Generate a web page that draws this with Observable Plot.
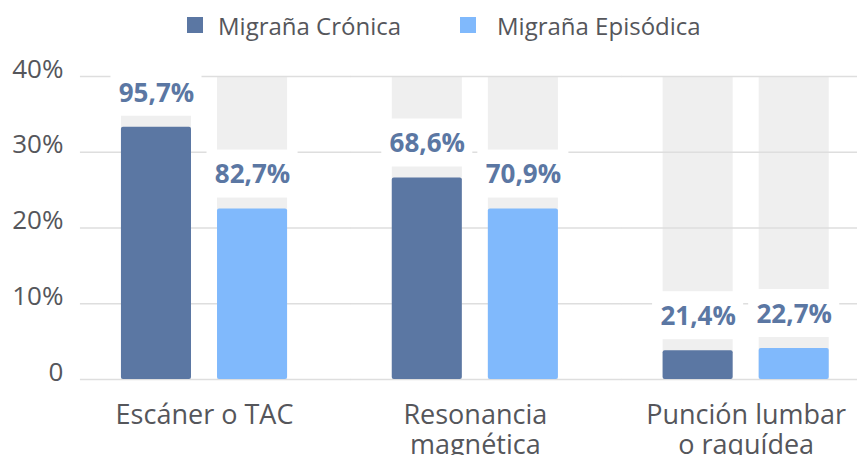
<!DOCTYPE html>
<html>
<head>
<meta charset="utf-8">
<script src="https://cdn.jsdelivr.net/npm/d3@7"></script>
<script src="https://cdn.jsdelivr.net/npm/@observablehq/plot@0.6"></script>
<style>
  html, body { margin: 0; padding: 0; background: #fff; }
  body { width: 857px; height: 455px; overflow: hidden; font-family: "Open Sans", sans-serif; }
  #legend { position: relative; height: 50px; }
  .item { position: absolute; top: 0; height: 50px; display: flex; align-items: center; font-size: 24px; color: #55565b; }
  .sw { width: 16px; height: 16px; display: inline-block; }
</style>
</head>
<body>
<div id="legend"></div>
<div id="chart"></div>
<script>
const groups = ["Escáner o TAC", "Resonancia magnética", "Punción lumbar o raquídea"];
const groupLabels = ["Escáner o TAC", "Resonancia\nmagnética", "Punción lumbar\no raquídea"];
const series = ["Migraña Crónica", "Migraña Episódica"];
const colors = ["#5b77a3", "#80b9fc"];
const cronica = [33.3, 26.6, 3.8];
const episodica = [22.5, 22.5, 4.1];
const cronicaLabels = ["95,7%", "68,6%", "21,4%"];
const episodicaLabels = ["82,7%", "70,9%", "22,7%"];
const yMax = 40;
const yTicks = [0, 10, 20, 30, 40];
const yTickLabels = ["0", "10%", "20%", "30%", "40%"];

const rows = [];
groups.forEach((g, i) => {
  rows.push({group: g, series: series[0], value: cronica[i], label: cronicaLabels[i], track: yMax});
  rows.push({group: g, series: series[1], value: episodica[i], label: episodicaLabels[i], track: yMax});
});

// legend
const legend = document.getElementById("legend");
const legendPos = [[187, 218], [460, 497]];
series.forEach((s, i) => {
  const sw = document.createElement("div");
  sw.className = "item";
  sw.style.left = legendPos[i][0] + "px";
  sw.innerHTML = `<span class="sw" style="background:${colors[i]}"></span>`;
  legend.appendChild(sw);
  const t = document.createElement("div");
  t.className = "item";
  t.style.left = legendPos[i][1] + "px";
  t.textContent = s;
  legend.appendChild(t);
});

const textColor = "#55565b";

const chart = Plot.plot({
  width: 857,
  height: 405,
  marginTop: 26,
  marginBottom: 76,
  marginLeft: 80,
  marginRight: 0,
  style: {fontFamily: "Open Sans, sans-serif", background: "#fff"},
  fx: {domain: groups, paddingInner: 0.261, paddingOuter: 0.065, align: 0.68, round: false, label: null},
  x: {domain: series, paddingInner: 0.2708, paddingOuter: 0.177, round: false, axis: null},
  y: {domain: [0, yMax], axis: null},
  color: {domain: series, range: colors},
  marks: [
    Plot.barY(rows, {fx: "group", x: "series", y1: () => 0, y2: "track", fill: "#efefef"}),
    Plot.ruleY(yTicks, {y: d => d, stroke: "#dedede", strokeWidth: 1.5, insetLeft: -24, insetRight: -47}),
    Plot.barY(rows, {fx: "group", x: "series", y: "value", fill: "series", rx: 2}),
    Plot.barY(rows, {fx: "group", x: "series", y1: "value", y2: "value", fill: "#fff",
      insetTop: -59, insetBottom: 11, insetLeft: -10.5, insetRight: -10.5}),
    Plot.text(rows, {fx: "group", x: "series", y: "value", text: "label", dy: -34,
      fill: colors[0], fontSize: 26, fontWeight: 700}),
    Plot.text(yTicks, {fx: () => groups[0], y: d => d, text: (d, i) => yTickLabels[i],
      frameAnchor: "left", textAnchor: "end", lineAnchor: "bottom", dx: -41, dy: 1,
      fontSize: 26, fill: textColor}),
    Plot.axisFx({anchor: "bottom", tickSize: 0, tickPadding: 23, label: null,
      tickFormat: d => groupLabels[groups.indexOf(d)], fontSize: 27, lineHeight: 1.11,
      fill: textColor})
  ]
});
document.getElementById("chart").appendChild(chart);
</script>
</body>
</html>
